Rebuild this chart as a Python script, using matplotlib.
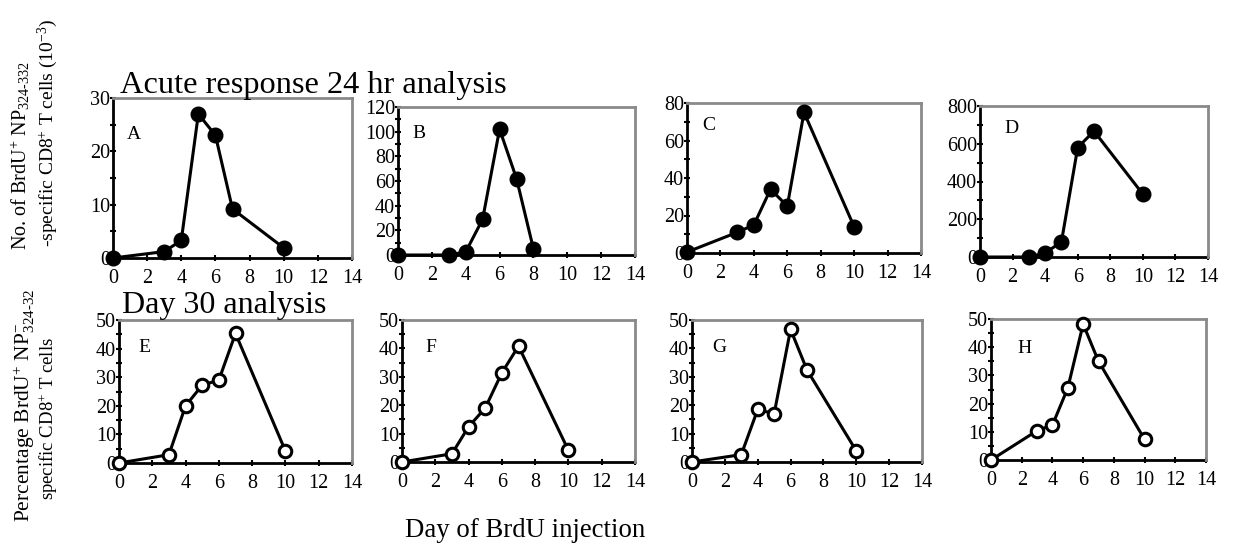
import matplotlib
matplotlib.use("Agg")
import matplotlib.pyplot as plt

plt.rcParams['font.family'] = ['Liberation Serif', 'DejaVu Serif']
plt.rcParams['mathtext.fontset'] = 'custom'
plt.rcParams['mathtext.rm'] = 'Liberation Serif'
plt.rcParams['mathtext.it'] = 'Liberation Serif:italic'
plt.rcParams['mathtext.bf'] = 'Liberation Serif:bold'

# ---------------- data ----------------
panel_labels = ["A", "B", "C", "D", "E", "F", "G", "H"]

days_A = [0, 3, 4, 5, 6, 7, 10]
vals_A = [0, 1.2, 3.3, 27, 23, 9.2, 1.9]

days_B = [0, 3, 4, 5, 6, 7, 8]
vals_B = [0, 0, 2.5, 29, 102, 62, 5]

days_C = [0, 3, 4, 5, 6, 7, 10]
vals_C = [0.5, 11, 15, 34, 25, 75, 14]

days_D = [0, 3, 4, 5, 6, 7, 10]
vals_D = [0, 0, 21, 80, 580, 667, 333]

days_E = [0, 3, 4, 5, 6, 7, 10]
vals_E = [0, 2.9, 20, 27.2, 29, 45.3, 4.2]

days_F = [0, 3, 4, 5, 6, 7, 10]
vals_F = [0, 2.9, 12.4, 19, 31.4, 40.8, 4.1]

days_G = [0, 3, 4, 5, 6, 7, 10]
vals_G = [0, 2.6, 18.5, 17, 46.7, 32.4, 3.9]

days_H = [0, 3, 4, 5, 6, 7, 10]
vals_H = [0, 10.4, 12.4, 25.5, 48.2, 35, 7.3]

x_ticks = [0, 2, 4, 6, 8, 10, 12, 14]
y_ticks_A = [0, 10, 20, 30]
y_ticks_B = [0, 20, 40, 60, 80, 100, 120]
y_ticks_C = [0, 20, 40, 60, 80]
y_ticks_D = [0, 200, 400, 600, 800]
y_ticks_pct = [0, 10, 20, 30, 40, 50]

title_top = "Acute response 24 hr analysis"
title_bottom = "Day 30 analysis"
xlabel = "Day of BrdU injection"
ylabel_top = [r"No. of BrdU$^{+}$ NP$_{324\text{-}332}$",
              r"-specific CD8$^{+}$ T cells (10$^{-3}$)"]
ylabel_bottom = [r"Percentage BrdU$^{+}$ NP$_{324\text{-}32}^{-}$",
                 r"specific CD8$^{+}$ T cells"]

# ---------------- layout ----------------
W, H = 1235, 546
fig = plt.figure(figsize=(W / 100, H / 100), dpi=100)

# axes boxes in pixels: left, top, right, bottom
boxes = [
    (113, 98, 352, 258),
    (398, 107, 635, 255),
    (687, 103, 921, 253),
    (980, 106, 1208, 257),
    (119, 320, 352, 463),
    (402, 320, 635, 462),
    (692, 320, 922, 462),
    (991, 319, 1206, 460),
]
letter_pos = [(0.059, 0.744), (0.059, 0.79), (0.064, 0.82), (0.105, 0.82),
              (0.082, 0.776), (0.099, 0.775), (0.087, 0.775), (0.121, 0.76)]

series = [(days_A, vals_A, y_ticks_A), (days_B, vals_B, y_ticks_B),
          (days_C, vals_C, y_ticks_C), (days_D, vals_D, y_ticks_D),
          (days_E, vals_E, y_ticks_pct), (days_F, vals_F, y_ticks_pct),
          (days_G, vals_G, y_ticks_pct), (days_H, vals_H, y_ticks_pct)]

for i, ((l, t, r, b), (xd, yd, yt)) in enumerate(zip(boxes, series)):
    ax = fig.add_axes([l / W, 1 - b / H, (r - l) / W, (b - t) / H])
    filled = i < 4
    if filled:
        ax.plot(xd, yd, color='black', lw=2.2, marker='o', ms=10.5,
                mfc='black', mec='black', clip_on=False, zorder=3)
    else:
        ax.plot(xd, yd, color='black', lw=2.2, marker='o', ms=9,
                mfc='white', mec='black', mew=2.2, clip_on=False, zorder=3)
    ax.set_xlim(0, 14)
    ax.set_ylim(yt[0], yt[-1])
    ax.set_xticks(x_ticks)
    ax.set_xticks(range(0, 15), minor=True)
    ax.set_yticks(yt)
    step = yt[1] - yt[0]
    ax.set_yticks([v + step / 2 for v in yt[:-1]], minor=True)
    ax.tick_params(axis='both', which='both', direction='inout', length=4,
                   width=1.5, labelsize=14.5, colors='black')
    ax.tick_params(axis='x', which='minor', length=0)
    ax.tick_params(axis='y', pad=0)
    ax.tick_params(axis='x', pad=6)
    for s in ['left', 'bottom']:
        ax.spines[s].set_color('black')
        ax.spines[s].set_linewidth(2.0)
        ax.spines[s].set_zorder(2)
    for s in ['top', 'right']:
        ax.spines[s].set_color('#8a8a8a')
        ax.spines[s].set_linewidth(2.0)
    ax.text(letter_pos[i][0], letter_pos[i][1], panel_labels[i],
            transform=ax.transAxes, fontsize=14, ha='left', va='baseline')

# titles
fig.text(120 / W, 1 - 93 / H, title_top, fontsize=23.3, ha='left', va='baseline')
fig.text(122 / W, 1 - 313 / H, title_bottom, fontsize=23, ha='left', va='baseline')
fig.text(405 / W, 1 - 537 / H, xlabel, fontsize=19.3, ha='left', va='baseline')

# y labels (two lines each, rotated)
def vlabel(s, xc, ystart, size):
    fig.text(xc / W, 1 - ystart / H, s, fontsize=size, rotation=90,
             rotation_mode='anchor', ha='left', va='center')

vlabel(ylabel_top[0], 20, 250, 14.5)
vlabel(ylabel_top[1], 48, 247, 14)
vlabel(ylabel_bottom[0], 24, 522, 15.5)
vlabel(ylabel_bottom[1], 49, 500, 13.5)

fig.savefig("out.png", dpi=100, facecolor='white')
